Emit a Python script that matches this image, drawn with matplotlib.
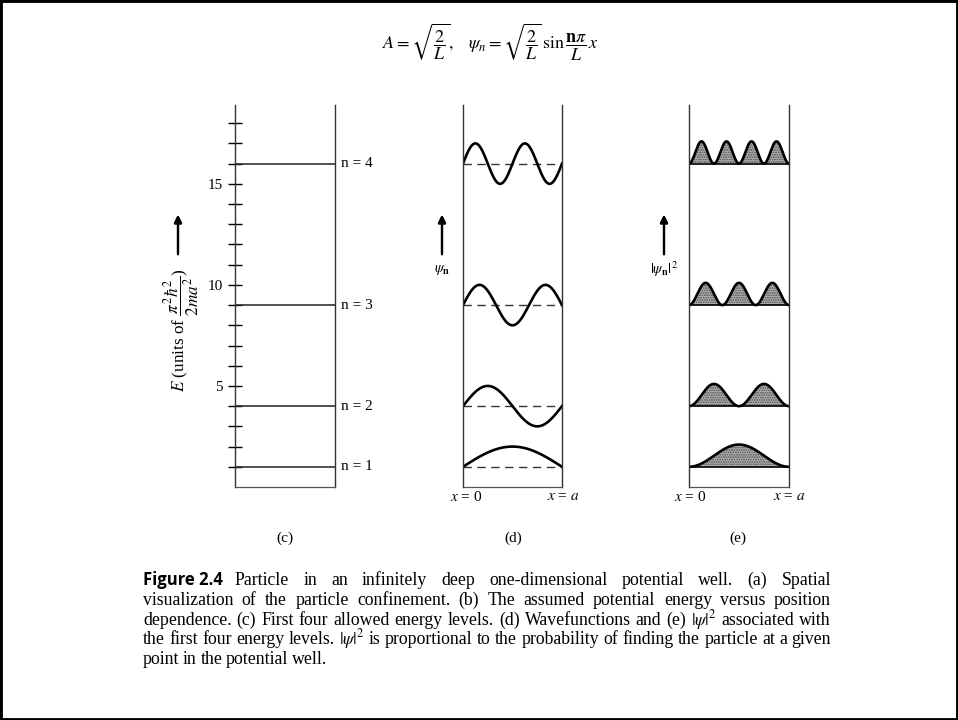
import numpy as np
import matplotlib
matplotlib.use("Agg")
import matplotlib.pyplot as plt
from matplotlib.patches import Rectangle

plt.rcParams['font.family'] = ['Liberation Serif', 'DejaVu Serif']
plt.rcParams['mathtext.fontset'] = 'stix'
plt.rcParams['hatch.linewidth'] = 0.9

W, H = 958, 720

# energy levels in units of pi^2 hbar^2 / (2 m a^2)
n_levels = [1, 2, 3, 4]
energies = [1, 4, 9, 16]
major_ticks = [5, 10, 15]
minor_ticks = [1, 2, 3, 4, 6, 7, 8, 9, 11, 12, 13, 14, 16, 17, 18]
psi_amp = 1.0      # drawn height of psi_n (energy units)
psi2_amp = 1.1     # drawn height of |psi_n|^2
e_max = 18.9

panel_labels = ['(c)', '(d)', '(e)']

caption_lines = [
    "Particle in an infinitely deep one-dimensional potential well. (a) Spatial",
    "visualization of the particle confinement. (b) The assumed potential energy versus position",
    "dependence. (c) First four allowed energy levels. (d) Wavefunctions and (e) $|\\psi|^2$ associated with",
    "the first four energy levels. $|\\psi|^2$ is proportional to the probability of finding the particle at a given",
    "point in the potential well.",
]

fig = plt.figure(figsize=(W / 100, H / 100), dpi=100)


def fx(px):
    return px / W


def fy(py):
    return 1 - py / H


def panel(left_px, right_px):
    ax = fig.add_axes([fx(left_px), fy(487), (right_px - left_px) / W, (487 - 105) / H])
    ax.set_xlim(0, 1)
    ax.set_ylim(0, e_max)
    ax.spines['top'].set_visible(False)
    for s in ['left', 'right']:
        ax.spines[s].set_linewidth(1.0)
        ax.spines[s].set_color('#333333')
    ax.spines['bottom'].set_linewidth(0.9)
    ax.spines['bottom'].set_color('#555555')
    ax.set_xticks([])
    ax.set_yticks([])
    ax.patch.set_alpha(0)
    return ax


# (c) energy levels
axc = panel(235, 335)
axc.set_yticks(major_ticks)
axc.set_yticks(minor_ticks, minor=True)
axc.tick_params(axis='y', which='both', direction='inout', length=10, width=1.0,
                labelsize=11, pad=4)
for e, n in zip(energies, n_levels):
    axc.hlines(e, 0, 1, color='#222222', lw=1.1)
    axc.text(1.06, e, 'n = %d' % n, va='center', ha='left', fontsize=11,
             transform=axc.get_yaxis_transform())

# (d) wavefunctions
xs = np.linspace(0, 1, 400)
axd = panel(463, 562)
for e, n in zip(energies, n_levels):
    axd.plot([0, 1], [e, e], color='#333333', lw=1.0, dashes=(6, 4))
    axd.plot(xs, e + psi_amp * np.sin(n * np.pi * xs), color='black', lw=1.9)

# (e) probability densities
axe = panel(689, 789)
for e, n in zip(energies, n_levels):
    y = e + psi2_amp * np.sin(n * np.pi * xs) ** 2
    axe.fill_between(xs, e, y, facecolor='#b8b8b8', hatch='.......',
                     edgecolor='#444444', linewidth=0)
    axe.plot(xs, y, color='black', lw=1.9)
    axe.plot([0, 1], [e, e], color='black', lw=1.2)

# axis annotations
fig.text(fx(182), fy(330), r'$E$ (units of $\dfrac{\pi^2\hbar^2}{2ma^2}$)',
         rotation=90, ha='center', va='center', fontsize=12.3)
for xa in [178, 442, 664]:
    fig.add_artist(plt.annotate('', xy=(xa, H - 212), xytext=(xa, H - 257),
                                xycoords='figure pixels', textcoords='figure pixels',
                                arrowprops=dict(arrowstyle='-|>', color='black', lw=1.6,
                                                mutation_scale=11)))
fig.text(fx(442), fy(270), r'$\psi_\mathbf{n}$', ha='center', va='center', fontsize=10.5)
fig.text(fx(664), fy(269), r'$|\psi_\mathbf{n}|^2$', ha='center', va='center', fontsize=10.5)

for xp, s in [(466, r'$x$ = 0'), (563, r'$x$ = $a$'), (690, r'$x$ = 0'), (789, r'$x$ = $a$')]:
    fig.text(fx(xp), fy(497), s, ha='center', va='center', fontsize=11)

for xp, s in zip([285, 513, 738], panel_labels):
    fig.text(fx(xp), fy(538), s, ha='center', va='center', fontsize=11)

# formula on top
fig.text(fx(490), fy(42),
         r'$A = \sqrt{\dfrac{2}{L}},\quad \psi_n = \sqrt{\dfrac{2}{L}}\,\sin\dfrac{\mathbf{n}\pi}{L}\,x$',
         ha='center', va='center', fontsize=13)

# caption, justified word by word
x0, x1 = 143, 831
baselines = [585, 605, 625, 644.5, 664]
cap_fs = 12.8
renderer = fig.canvas.get_renderer()
head = fig.text(fx(x0), fy(baselines[0]), 'Figure 2.4', family=['Open Sans', 'DejaVu Sans'],
                fontweight='bold', fontsize=12, va='baseline', ha='left')
head_w = head.get_window_extent(renderer).width
for i, line in enumerate(caption_lines):
    words = line.split(' ')
    arts = [fig.text(0, fy(baselines[i]), w, fontsize=cap_fs, va='baseline', ha='left')
            for w in words]
    widths = [a.get_window_extent(renderer).width for a in arts]
    start = x0 + head_w + 12 if i == 0 else x0
    if i < len(caption_lines) - 1:
        gap = max((x1 - start - sum(widths)) / (len(words) - 1), 2.0)
    else:
        gap = 3.6
    xpos = start
    for a, w in zip(arts, widths):
        a.set_x(fx(xpos))
        xpos += w + gap

# outer frame
fig.add_artist(Rectangle((0, 0), 1, 1, transform=fig.transFigure, fill=False,
                         edgecolor='black', linewidth=3.5))

fig.savefig('out.png', dpi=100)
